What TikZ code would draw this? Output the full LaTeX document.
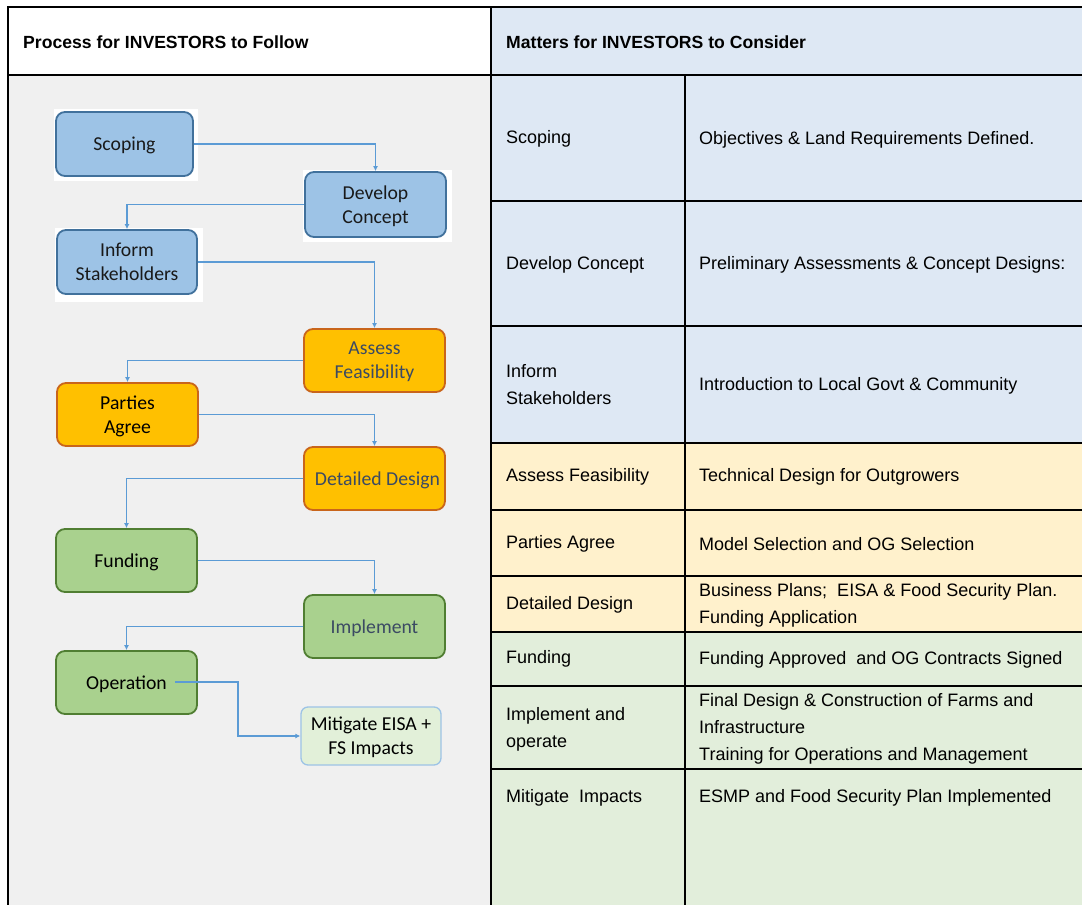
\documentclass[tikz,border=0pt]{standalone}
\usepackage{fontspec}
\setmainfont{Liberation Sans}
\newfontfamily\boxfont{Carlito}
\usetikzlibrary{arrows.meta}
\definecolor{leftgray}{HTML}{F0F0F0}
\definecolor{tblue}{HTML}{DEE8F4}
\definecolor{torange}{HTML}{FFF1CC}
\definecolor{tgreen}{HTML}{E2EEDB}
\definecolor{bblue}{HTML}{9DC3E6}
\definecolor{bblueline}{HTML}{41719C}
\definecolor{borange}{HTML}{FFC000}
\definecolor{borangeline}{HTML}{C9651B}
\definecolor{bgreen}{HTML}{A9D18E}
\definecolor{bgreenline}{HTML}{507E32}
\definecolor{mitfill}{HTML}{E2F0D9}
\definecolor{connblue}{HTML}{5B9BD5}
\definecolor{slate}{HTML}{3B4A63}
\begin{document}
\begin{tikzpicture}[x=1pt,y=-1pt,
  grid/.style={line width=2.6pt,black},
  tcell/.style={anchor=west,inner sep=0pt,align=left,font=\fontsize{18}{27}\selectfont},
  thead/.style={anchor=west,inner sep=0pt,font=\bfseries\fontsize{17.6}{20}\selectfont},
  fbox/.style={rounded corners=9pt,line width=1.8pt,align=center,inner sep=2pt,text depth=0pt,
    font=\boxfont\fontsize{19.7}{24}\selectfont},
  bluebox/.style={fbox,fill=bblue,draw=bblueline,text=black!90},
  orangebox/.style={fbox,fill=borange,draw=borangeline},
  greenbox/.style={fbox,fill=bgreen,draw=bgreenline},
  mitbox/.style={fbox,fill=mitfill,draw=bblue,line width=1.3pt,rounded corners=7pt},
  conn/.style={connblue,line width=1.6pt,-{Latex[length=5pt,width=5pt]}}
]
\useasboundingbox (0,0) rectangle (1082,905);
% backgrounds
\fill[white] (0,0) rectangle (1082,905);
\fill[leftgray] (8,75) rectangle (491,905);
\fill[tblue] (491,7) rectangle (1082,443);
\fill[torange] (491,443) rectangle (1082,632);
\fill[tgreen] (491,632) rectangle (1082,905);
% white patches behind first boxes
\fill[white] (54,109) rectangle (198,181);
\fill[white] (303,170) rectangle (452,242);
\fill[white] (55,228) rectangle (203,302);
% grid lines
\draw[grid] (1082,7) -- (8,7) -- (8,905);
\draw[grid] (8,75) -- (1082,75);
\draw[grid] (491,7) -- (491,905);
\draw[grid] (685,75) -- (685,905);
\foreach \yy in {201,326,443,510,576,632,686,769}
  \draw[grid] (491,\yy) -- (1082,\yy);
% headers
\node[thead] (h1) at (23,42) {Process for INVESTORS to Follow};
\node[thead] (h2) at (506,42) {Matters for INVESTORS to Consider};
% table text
\node[tcell] (a1) at (506,139) {Scoping};
\node[tcell] (b1) at (699,140) {Objectives \& Land Requirements Defined.};
\node[tcell] (a2) at (506,265) {Develop Concept};
\node[tcell] (b2) at (699,265) {Preliminary Assessments \& Concept Designs:};
\node[tcell] (a3) at (506,385) {Inform\\Stakeholders};
\node[tcell] (b3) at (699,386) {Introduction to Local Govt \& Community};
\node[tcell] (a4) at (506,477) {Assess Feasibility};
\node[tcell] (b4) at (699,477) {Technical Design for Outgrowers};
\node[tcell] (a5) at (506,544) {Parties Agree};
\node[tcell] (b5) at (699,544) {Model Selection and OG Selection};
\node[tcell] (a6) at (506,605) {Detailed Design};
\node[tcell] (b6) at (699,605) {Business Plans;\ \ EISA \& Food Security Plan.\\Funding Application};
\node[tcell] (a7) at (506,659) {Funding};
\node[tcell] (b7) at (699,660) {Funding Approved\ \ and OG Contracts Signed};
\node[tcell] (a8) at (506,729) {Implement and\\operate};
\node[tcell] (b8) at (699,729) {Final Design \& Construction of Farms and\\Infrastructure\\Training for Operations and Management};
\node[tcell] (a9) at (506,798) {Mitigate\ \ Impacts};
\node[tcell] (b9) at (699,798) {ESMP and Food Security Plan Implemented};
% flowchart
\node[bluebox,minimum width=137pt,minimum height=64pt] (scop) at (124.5,144) {Scoping};
\node[bluebox,minimum width=141pt,minimum height=65pt] (dev) at (375.5,204.5) {Develop\\Concept};
\node[bluebox,minimum width=140pt,minimum height=64pt] (inf) at (127,262) {Inform\\Stakeholders};
\node[orangebox,minimum width=141pt,minimum height=63pt,text=slate] (ass) at (374.5,360.5) {Assess\\Feasibility};
\node[orangebox,minimum width=141pt,minimum height=63pt] (par) at (127.5,414.5) {Parties\\Agree};
\node[orangebox,minimum width=141pt,minimum height=63pt,text=slate] (det) at (374.5,478.5) {\hspace*{6pt}Detailed Design};
\node[greenbox,minimum width=141pt,minimum height=63pt] (fun) at (126.5,560.5) {Funding};
\node[greenbox,minimum width=141pt,minimum height=63pt,text=slate] (imp) at (374.5,626.5) {Implement};
\node[greenbox,minimum width=141pt,minimum height=63pt] (ope) at (126.5,682.5) {Operation};
\node[mitbox,minimum width=140pt,minimum height=58pt] (mit) at (371,736) {Mitigate EISA +\\FS Impacts};
% connectors
\draw[conn] (scop.east) -| (dev.north);
\draw[conn] (dev.west) -| (inf.north);
\draw[conn] (inf.east) -| (ass.north);
\draw[conn] (ass.west) -| (par.north);
\draw[conn] (par.east) -| (det.north);
\draw[conn] (det.west) -| (fun.north);
\draw[conn] (fun.east) -| (imp.north);
\draw[conn] (imp.west) -| (ope.north);
\coordinate (opstart) at (175,682);
\coordinate (opbend) at (238,682);
\draw[conn] (opstart) -- (opbend) |- (mit.west);
\end{tikzpicture}
\end{document}
